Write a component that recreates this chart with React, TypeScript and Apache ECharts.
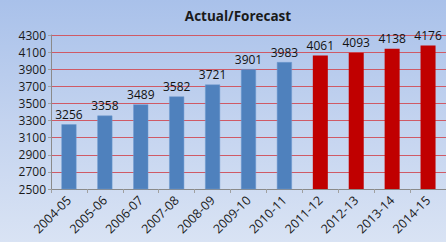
import React, { useEffect, useRef } from "react";
import * as echarts from "echarts";

const categories = ["2004-05", "2005-06", "2006-07", "2007-08", "2008-09", "2009-10", "2010-11", "2011-12", "2012-13", "2013-14", "2014-15"];
const actualValues: (number | string)[] = [3256, 3358, 3489, 3582, 3721, 3901, 3983, "-", "-", "-", "-"];
const forecastValues: (number | string)[] = ["-", "-", "-", "-", "-", "-", "-", 4061, 4093, 4138, 4176];

export default function App() {
  const ref = useRef<HTMLDivElement>(null);
  useEffect(() => {
    document.body.style.margin = "0";
    const chart = echarts.init(ref.current!, null, { renderer: "svg" });
    const font = "'Open Sans', 'Liberation Sans', sans-serif";
    chart.setOption({
      animation: false,
      backgroundColor: "transparent",
      title: {
        text: "Actual/Forecast",
        left: 233,
        top: 4,
        textAlign: "center",
        textStyle: { fontSize: 13.5, fontWeight: "bold", color: "#1a1a1a", fontFamily: font },
      },
      grid: { left: 51, top: 35, width: 404, height: 154, containLabel: false },
      xAxis: {
        type: "category",
        data: categories,
        axisLine: { lineStyle: { color: "#8a8a8a" } },
        axisTick: { show: true, lineStyle: { color: "#a0a0a0" }, length: 4 },
        axisLabel: { rotate: 45, fontSize: 12.5, color: "#1a1a1a", fontFamily: font, margin: 9, interval: 0 },
      },
      yAxis: {
        type: "value",
        min: 2500,
        max: 4300,
        interval: 200,
        axisLine: { show: true, lineStyle: { color: "#8a8a8a" } },
        axisTick: { show: true, lineStyle: { color: "#a0a0a0" }, length: 3 },
        axisLabel: { fontSize: 12, color: "#1a1a1a", fontFamily: font, margin: 5, formatter: (v: number) => String(v) },
        splitLine: { lineStyle: { color: "#cf5a66", width: 1 } },
      },
      series: [
        {
          type: "bar",
          data: actualValues,
          barWidth: 15,
          barGap: "-100%",
          itemStyle: { color: "#4f81bd", borderColor: "#6f9ad0", borderWidth: 0.5 },
          label: { show: true, position: "top", fontSize: 12, color: "#111", fontFamily: font, distance: 4 },
        },
        {
          type: "bar",
          data: forecastValues,
          barWidth: 15,
          barGap: "-100%",
          itemStyle: { color: "#c00000" },
          label: { show: true, position: "top", fontSize: 12, color: "#111", fontFamily: font, distance: 4 },
        },
      ],
    });
    return () => chart.dispose();
  }, []);
  return (
    <div
      style={{
        width: 446,
        height: 242,
        background: "linear-gradient(to bottom, #a9c1ea 0%, #c3d3ef 50%, #d9e3f4 100%)",
      }}
    >
      <div ref={ref} style={{ width: 446, height: 242 }} />
    </div>
  );
}
